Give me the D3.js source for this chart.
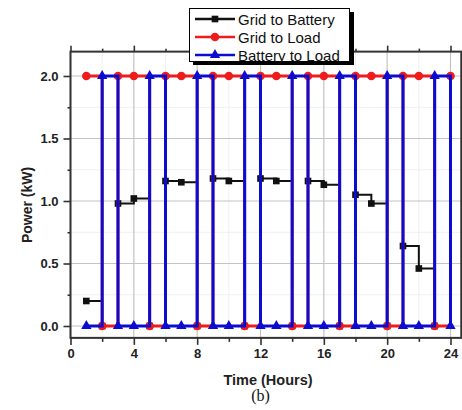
<!DOCTYPE html>
<html><head><meta charset="utf-8">
<script src="https://cdn.jsdelivr.net/npm/d3@7"></script>
<style>body{margin:0;background:#fff}svg{display:block}</style>
</head><body>
<svg id="c" width="462" height="410"></svg>
<script>
const hours = [1,2,3,4,5,6,7,8,9,10,11,12,13,14,15,16,17,18,19,20,21,22,23,24];
const gridToBattery = [0.2,0,0.98,1.02,0,1.16,1.15,0,1.18,1.16,0,1.18,1.16,0,1.16,1.13,0,1.05,0.98,0,0.64,0.46,0,null];
const gridToLoad    = [2,0,2,2,0,2,2,0,2,2,0,2,2,0,2,2,0,2,2,0,2,2,0,2];
const batteryToLoad = [0,2,0,0,2,0,0,2,0,0,2,0,0,2,0,0,2,0,0,2,0,0,2,0];
const xMajor = [0,4,8,12,16,20,24];
const xMinor = [2,6,10,14,18,22];
const yMajor = [0,0.5,1.0,1.5,2.0];
const yMinor = [0.25,0.75,1.25,1.75];
const seriesNames = ["Grid to Battery","Grid to Load","Battery to Load"];

const svg = d3.select("#c");
const x = d3.scaleLinear().domain([0,24]).range([70.5,450.5]);
const y = d3.scaleLinear().domain([0,2]).range([326,76]);
const X0 = x(0), X1 = x(24.68), Y0 = y(-0.095), Y1 = y(2.195);
const sans = "Arial, 'Liberation Sans', sans-serif";

// grid
const g = svg.append("g");
g.selectAll(".gxm").data(xMinor).join("line").attr("x1",d=>x(d)).attr("x2",d=>x(d)).attr("y1",Y1).attr("y2",Y0).attr("stroke","#f0f0f0").attr("stroke-width",1);
g.selectAll(".gym").data(yMinor).join("line").attr("y1",d=>y(d)).attr("y2",d=>y(d)).attr("x1",X0).attr("x2",X1).attr("stroke","#f0f0f0").attr("stroke-width",1);
g.selectAll(".gx").data(xMajor).join("line").attr("x1",d=>x(d)).attr("x2",d=>x(d)).attr("y1",Y1).attr("y2",Y0).attr("stroke","#c4c4c4").attr("stroke-width",1.2);
g.selectAll(".gy").data(yMajor).join("line").attr("y1",d=>y(d)).attr("y2",d=>y(d)).attr("x1",X0).attr("x2",X1).attr("stroke","#c4c4c4").attr("stroke-width",1.2);

// axes
const fmtY = d3.format(".1f");
const axB = svg.append("g").attr("transform",`translate(0,${Y0})`).call(d3.axisBottom(x).tickValues(xMajor).tickSize(7).tickPadding(4));
const axBm = svg.append("g").attr("transform",`translate(0,${Y0})`).call(d3.axisBottom(x).tickValues(xMinor).tickSize(4).tickFormat(""));
const axT = svg.append("g").attr("transform",`translate(0,${Y1})`).call(d3.axisTop(x).tickValues(xMajor).tickSize(6).tickFormat(""));
const axTm = svg.append("g").attr("transform",`translate(0,${Y1})`).call(d3.axisTop(x).tickValues(xMinor).tickSize(3).tickFormat(""));
const axL = svg.append("g").attr("transform",`translate(${X0},0)`).call(d3.axisLeft(y).tickValues(yMajor).tickSize(7).tickPadding(5).tickFormat(fmtY));
const axLm = svg.append("g").attr("transform",`translate(${X0},0)`).call(d3.axisLeft(y).tickValues(yMinor).tickSize(3).tickFormat(""));
const axR = svg.append("g").attr("transform",`translate(${X1},0)`).call(d3.axisRight(y).tickValues(yMajor).tickSize(6).tickFormat(""));
const axRm = svg.append("g").attr("transform",`translate(${X1},0)`).call(d3.axisRight(y).tickValues(yMinor).tickSize(3).tickFormat(""));
[axB,axBm,axT,axTm,axL,axLm,axR,axRm].forEach(a=>{
  a.select(".domain").remove();
  a.selectAll(".tick line").attr("stroke","#333").attr("stroke-width",1.6);
  a.selectAll("text").attr("font-family",sans).attr("font-weight","bold").attr("font-size",13).attr("fill","#222");
});
svg.append("rect").attr("x",X0).attr("y",Y1).attr("width",X1-X0).attr("height",Y0-Y1).attr("fill","none").attr("stroke","#333").attr("stroke-width",2);

// series
const defs = [
  {vals:gridToBattery, color:"#111111", marker:"square", w:2},
  {vals:gridToLoad, color:"#ee1c1c", marker:"circle", w:2.8},
  {vals:batteryToLoad, color:"#0c0cd0", marker:"triangle", w:3}
];
const plot = svg.append("g");
const line = d3.line().defined(d=>d[1]!=null).x(d=>x(d[0])).y(d=>y(d[1])).curve(d3.curveStepAfter);
const symType = {square:d3.symbolSquare, circle:d3.symbolCircle, triangle:d3.symbolTriangle};
const symSize = {square:44, circle:58, triangle:46};
defs.forEach(s=>{
  const pts = hours.map((h,i)=>[h,s.vals[i]]);
  plot.append("path").attr("d",line(pts)).attr("fill","none").attr("stroke",s.color).attr("stroke-width",s.w);
  plot.selectAll(null).data(pts.filter(p=>p[1]!=null)).join("path")
    .attr("transform",p=>`translate(${x(p[0])},${y(p[1])})`)
    .attr("d",d3.symbol().type(symType[s.marker]).size(symSize[s.marker]))
    .attr("fill",s.color);
});

// legend
const lg = svg.append("g");
lg.append("rect").attr("x",193).attr("y",12).attr("width",161).attr("height",53).attr("fill","#000");
lg.append("rect").attr("x",189.5).attr("y",8.5).attr("width",160).attr("height",53).attr("fill","#fff").attr("stroke","#000").attr("stroke-width",1);
defs.forEach((s,i)=>{
  const ly = 19 + i*18;
  lg.append("line").attr("x1",195).attr("x2",235).attr("y1",ly).attr("y2",ly).attr("stroke",s.color).attr("stroke-width",2.5);
  lg.append("path").attr("transform",`translate(215,${ly})`).attr("d",d3.symbol().type(symType[s.marker]).size(symSize[s.marker])).attr("fill",s.color);
  lg.append("text").attr("x",238).attr("y",ly+5.5).text(seriesNames[i]).attr("font-family",sans).attr("font-size",15).attr("fill","#111");
});

// titles
svg.append("text").attr("x",268).attr("y",385).attr("text-anchor","middle").text("Time (Hours)")
  .attr("font-family",sans).attr("font-weight","bold").attr("font-size",14.5).attr("fill","#222");
svg.append("text").attr("transform","translate(32,205) rotate(-90)").attr("text-anchor","middle").text("Power (kW)")
  .attr("font-family",sans).attr("font-weight","bold").attr("font-size",14).attr("fill","#222");
svg.append("text").attr("x",260.5).attr("y",401).attr("text-anchor","middle").text("(b)")
  .attr("font-family","'Times New Roman', 'Liberation Serif', serif").attr("font-size",16).attr("fill","#111");
</script>
</body></html>
